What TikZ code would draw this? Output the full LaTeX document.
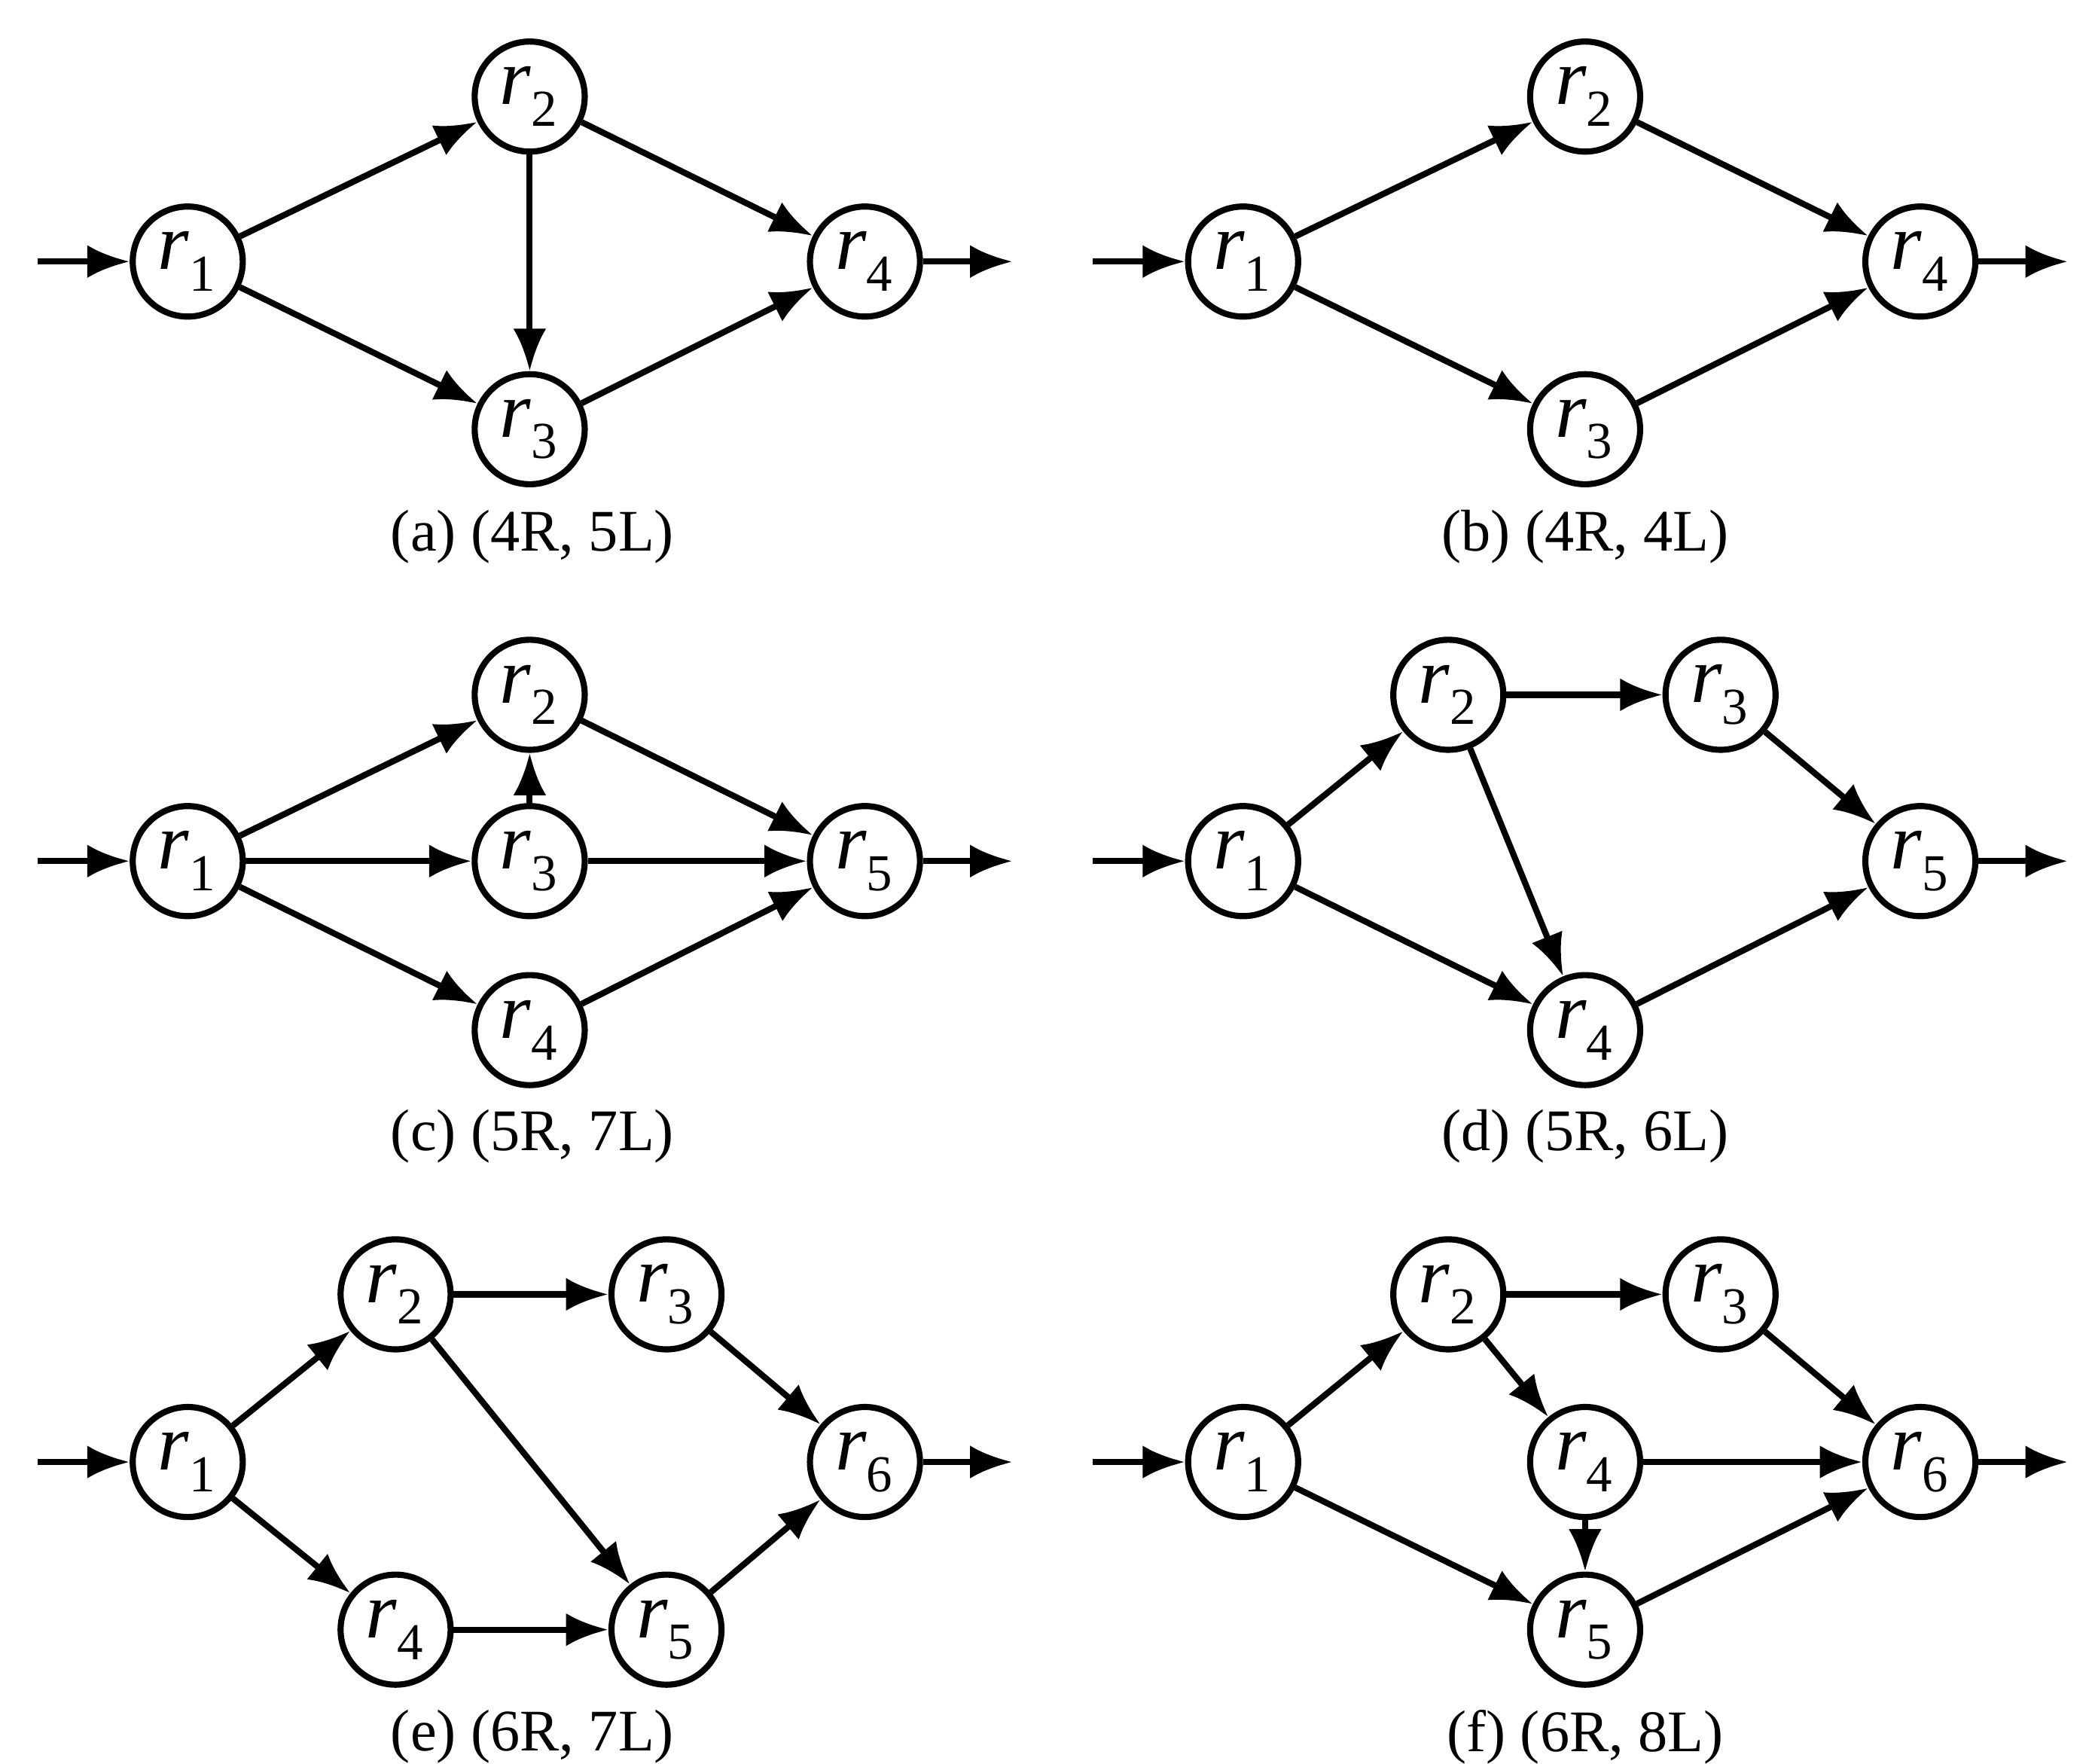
\documentclass[tikz,border=0pt]{standalone}
\usepackage{fontspec}
\setmainfont{Liberation Serif}
\usetikzlibrary{arrows.meta}
\begin{document}
\begin{tikzpicture}[x=0.01cm,y=-0.01cm,
  rn/.style={circle,draw,line width=1.3pt,minimum size=0.82cm,inner sep=0pt,font=\fontsize{17}{17}\selectfont},
  ed/.style={line width=1.3pt,-{Latex[length=9pt,width=7pt]}},
  capt/.style={font=\fontsize{12.5}{14}\selectfont}]
\useasboundingbox (0,0) rectangle (1560,1315);
\newcommand{\rl}[1]{$\mathit{r}_{\raisebox{-2pt}{\fontsize{11}{11}\selectfont #1}}$}
% (a)
\node[rn] (a1) at (140,195) {\rl1};
\node[rn] (a2) at (395,72) {\rl2};
\node[rn] (a3) at (395,320) {\rl3};
\node[rn] (a4) at (645,195) {\rl4};
\coordinate (ai) at (28,195); \coordinate (ao) at (755,195);
\draw[ed] (ai)--(a1); \draw[ed] (a4)--(ao);
\draw[ed] (a1)--(a2); \draw[ed] (a1)--(a3); \draw[ed] (a2)--(a3);
\draw[ed] (a2)--(a4); \draw[ed] (a3)--(a4);
\node[capt] (ca) at (397,400) {(a) (4R, 5L)};
% (b)
\node[rn] (b1) at (927,195) {\rl1};
\node[rn] (b2) at (1182,72) {\rl2};
\node[rn] (b3) at (1182,320) {\rl3};
\node[rn] (b4) at (1432,195) {\rl4};
\coordinate (bi) at (815,195); \coordinate (bo) at (1542,195);
\draw[ed] (bi)--(b1); \draw[ed] (b4)--(bo);
\draw[ed] (b1)--(b2); \draw[ed] (b1)--(b3);
\draw[ed] (b2)--(b4); \draw[ed] (b3)--(b4);
\node[capt] (cb) at (1182,400) {(b) (4R, 4L)};
% (c)
\node[rn] (c1) at (140,642) {\rl1};
\node[rn] (c2) at (395,518) {\rl2};
\node[rn] (c3) at (395,642) {\rl3};
\node[rn] (c4) at (395,768) {\rl4};
\node[rn] (c5) at (645,642) {\rl5};
\coordinate (ci) at (28,642); \coordinate (co) at (755,642);
\draw[ed] (ci)--(c1); \draw[ed] (c5)--(co);
\draw[ed] (c1)--(c2); \draw[ed] (c1)--(c3); \draw[ed] (c1)--(c4);
\draw[ed] (c3)--(c2);
\draw[ed] (c2)--(c5); \draw[ed] (c3)--(c5); \draw[ed] (c4)--(c5);
\node[capt] (cc) at (397,847) {(c) (5R, 7L)};
% (d)
\node[rn] (d1) at (927,642) {\rl1};
\node[rn] (d2) at (1080,518) {\rl2};
\node[rn] (d3) at (1283,518) {\rl3};
\node[rn] (d4) at (1182,768) {\rl4};
\node[rn] (d5) at (1432,642) {\rl5};
\coordinate (di) at (815,642); \coordinate (do) at (1542,642);
\draw[ed] (di)--(d1); \draw[ed] (d5)--(do);
\draw[ed] (d1)--(d2); \draw[ed] (d1)--(d4); \draw[ed] (d2)--(d3);
\draw[ed] (d2)--(d4); \draw[ed] (d3)--(d5); \draw[ed] (d4)--(d5);
\node[capt] (cd) at (1182,847) {(d) (5R, 6L)};
% (e)
\node[rn] (e1) at (140,1090) {\rl1};
\node[rn] (e2) at (295,965) {\rl2};
\node[rn] (e3) at (497,965) {\rl3};
\node[rn] (e4) at (295,1215) {\rl4};
\node[rn] (e5) at (497,1215) {\rl5};
\node[rn] (e6) at (645,1090) {\rl6};
\coordinate (ei) at (28,1090); \coordinate (eo) at (755,1090);
\draw[ed] (ei)--(e1); \draw[ed] (e6)--(eo);
\draw[ed] (e1)--(e2); \draw[ed] (e1)--(e4); \draw[ed] (e2)--(e3);
\draw[ed] (e2)--(e5); \draw[ed] (e3)--(e6); \draw[ed] (e4)--(e5); \draw[ed] (e5)--(e6);
\node[capt] (ce) at (397,1295) {(e) (6R, 7L)};
% (f)
\node[rn] (f1) at (927,1090) {\rl1};
\node[rn] (f2) at (1080,965) {\rl2};
\node[rn] (f3) at (1283,965) {\rl3};
\node[rn] (f4) at (1182,1090) {\rl4};
\node[rn] (f5) at (1182,1215) {\rl5};
\node[rn] (f6) at (1432,1090) {\rl6};
\coordinate (fi) at (815,1090); \coordinate (fo) at (1542,1090);
\draw[ed] (fi)--(f1); \draw[ed] (f6)--(fo);
\draw[ed] (f1)--(f2); \draw[ed] (f1)--(f5); \draw[ed] (f2)--(f3);
\draw[ed] (f2)--(f4); \draw[ed] (f3)--(f6); \draw[ed] (f4)--(f6);
\draw[ed] (f4)--(f5); \draw[ed] (f5)--(f6);
\node[capt] (cf) at (1182,1295) {(f) (6R, 8L)};
\end{tikzpicture}
\end{document}
